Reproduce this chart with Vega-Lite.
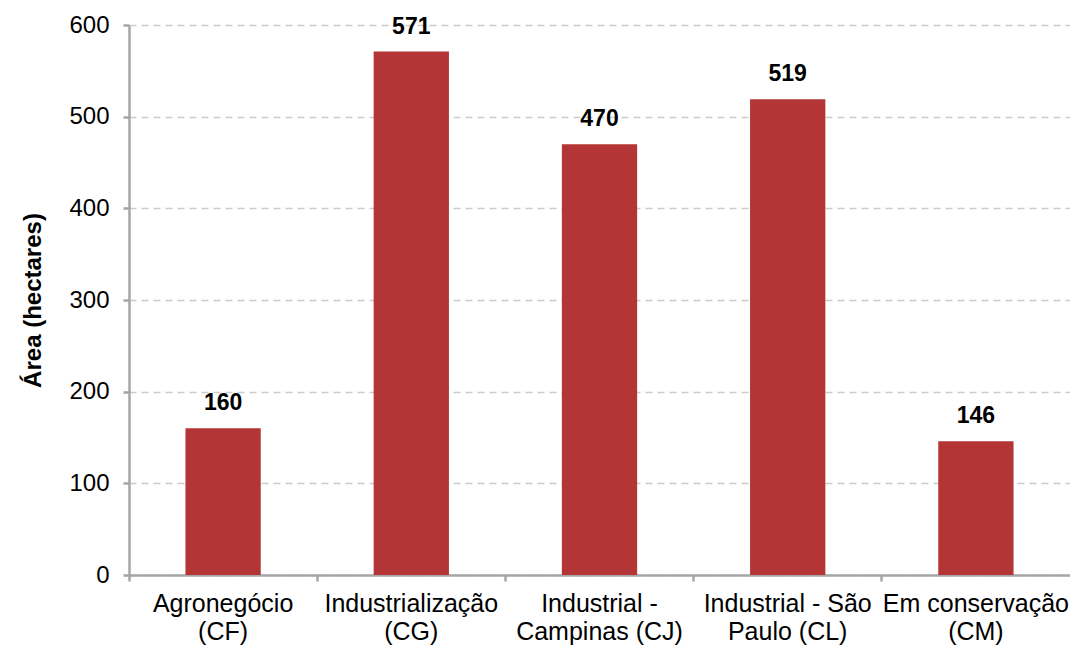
{
  "$schema": "https://vega.github.io/schema/vega-lite/v6.json",
  "width": 941,
  "height": 550,
  "autosize": "none",
  "padding": {"left": 129, "top": 25, "right": 0, "bottom": 71},
  "background": "white",
  "config": {
    "view": {"stroke": null},
    "font": "Liberation Sans"
  },
  "data": {
    "values": [
      {"categoria": "Agronegócio|(CF)", "area": 160},
      {"categoria": "Industrialização|(CG)", "area": 571},
      {"categoria": "Industrial -|Campinas (CJ)", "area": 470},
      {"categoria": "Industrial - São|Paulo (CL)", "area": 519},
      {"categoria": "Em conservação|(CM)", "area": 146}
    ]
  },
  "encoding": {
    "x": {
      "field": "categoria",
      "type": "nominal",
      "sort": null,
      "scale": {"paddingInner": 0, "paddingOuter": 0},
      "axis": {
        "title": null,
        "labelAngle": 0,
        "labelExpr": "split(datum.label, '|')",
        "labelFont": "Liberation Sans",
        "labelFontSize": 25,
        "labelColor": "#000000",
        "labelLineHeight": 28,
        "labelPadding": 10,
        "labelBaseline": "top",
        "labelLimit": 300,
        "bandPosition": 0,
        "domainColor": "#a6a6a6",
        "domainWidth": 2.5,
        "tickColor": "#a6a6a6",
        "tickWidth": 2.5,
        "tickSize": 6,
        "grid": false
      }
    },
    "y": {
      "field": "area",
      "type": "quantitative",
      "scale": {"domain": [0, 600]},
      "axis": {
        "title": "Área (hectares)",
        "titleFont": "Liberation Sans",
        "titleFontSize": 24,
        "titleFontWeight": "bold",
        "titleColor": "#000000",
        "titlePadding": 23,
        "values": [0, 100, 200, 300, 400, 500, 600],
        "labelFont": "Liberation Sans",
        "labelFontSize": 24,
        "labelColor": "#000000",
        "labelPadding": 14,
        "domainColor": "#a6a6a6",
        "domainWidth": 2.5,
        "tickColor": "#a6a6a6",
        "tickWidth": 2.5,
        "tickSize": 6,
        "grid": true,
        "gridColor": "#cccccc",
        "gridWidth": 1.5,
        "gridDash": [7, 5]
      }
    }
  },
  "layer": [
    {
      "mark": {"type": "bar", "color": "#b33535", "width": {"band": 0.4}}
    },
    {
      "mark": {
        "type": "text",
        "font": "Liberation Sans",
        "fontSize": 23,
        "fontWeight": "bold",
        "color": "#000000",
        "baseline": "bottom",
        "dy": -13
      },
      "encoding": {"text": {"field": "area", "type": "quantitative"}}
    }
  ]
}
